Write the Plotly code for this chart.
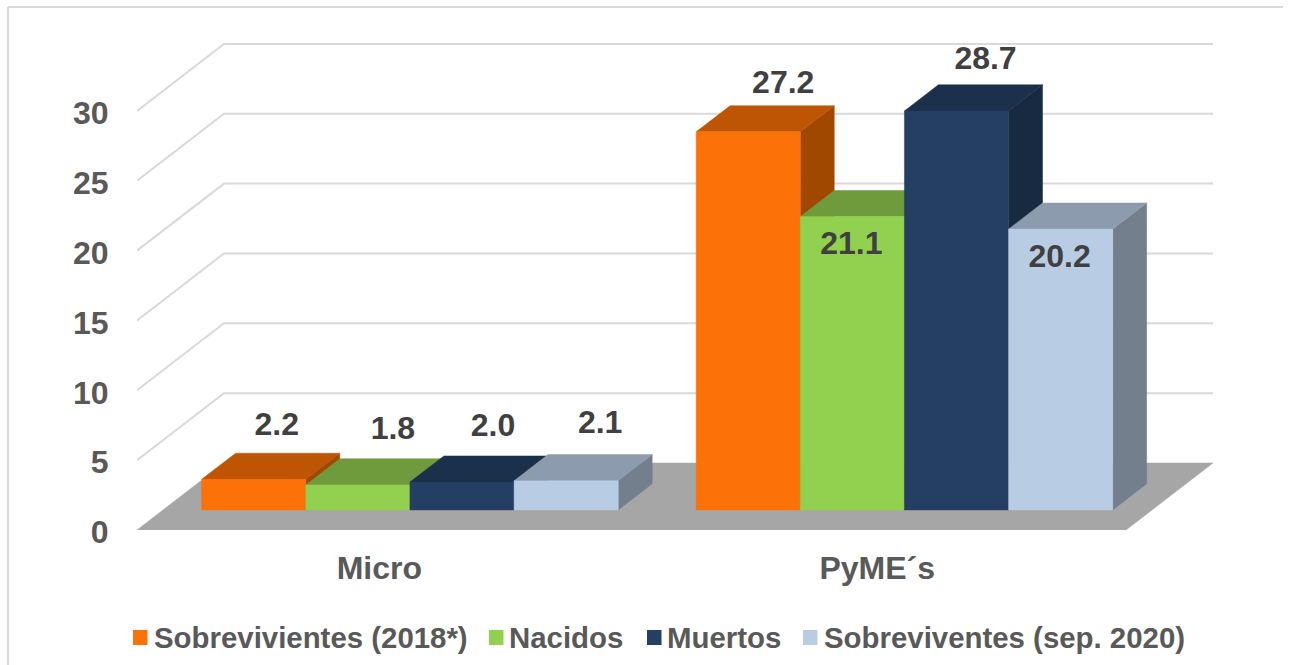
import plotly.graph_objects as go

# ---- data ----
categories = ["Micro", "PyME´s"]
series_names = ["Sobrevivientes (2018*)", "Nacidos", "Muertos", "Sobreviventes (sep. 2020)"]
sobrevivientes_2018 = [2.2, 27.2]
nacidos = [1.8, 21.1]
muertos = [2.0, 28.7]
sobreviventes_2020 = [2.1, 20.2]
y_ticks = [0, 5, 10, 15, 20, 25, 30]

# ---- style ----
W, H = 1292, 665
LEFT, RIGHT, TOP, BOTTOM = 137, 1226, 20, 530   # plot area in pixels
UX = 494.5   # px per category
UY = 13.97   # px per value unit
DEPTH_X = 87 / UX     # back wall offset, in category units
DEPTH_Y = 67 / UY     # back wall offset, in value units
BAR_D0 = 0.30         # bar front position in depth fraction
BAR_D1 = 0.69         # bar back position
BAR_SCALE = 0.995     # front plane foreshortening of bar heights
BAR_START = 0.078     # left of first bar within category
BAR_W = 0.2106
front = ["#FC7108", "#92D14F", "#243F63", "#B8CCE4"]
top = ["#BE5504", "#6F9B3C", "#1B304B", "#8C9BAD"]
side = ["#A04800", "#587C30", "#172A42", "#747F8D"]
GRID = "#D9D9D9"
FLOOR = "#A6A6A6"
TICK = "#595959"
LABEL = "#404040"
FONT = "Liberation Sans, Arial, sans-serif"
# label offsets (px) from the bar's front-top centre
label_off = [[(23, 52), (35, 54), (31, 54), (34, 56)],
             [(35, 47), (-1, -29), (29, 50), (-1, -30)]]
# legend: swatch left px, text left px
legend_sw = [133, 489, 647, 803]
legend_tx = [152, 507, 665, 822]


def proj(x, v, d):
    return x + d * DEPTH_X, v + d * DEPTH_Y


def poly(points, color, name):
    xs = [p[0] for p in points] + [points[0][0]]
    ys = [p[1] for p in points] + [points[0][1]]
    return go.Scatter(x=xs, y=ys, mode="lines", fill="toself", fillcolor=color,
                      line=dict(color=color, width=0.5), hoverinfo="skip",
                      showlegend=False, name=name, cliponaxis=False)


fig = go.Figure()
XMAX = (RIGHT - LEFT) / UX
YMAX = (BOTTOM - TOP) / UY

# walls grid
for t in y_ticks[1:]:
    a = proj(0, t, 0)
    b = proj(0, t, 1)
    c = proj(2, t, 1)
    fig.add_trace(go.Scatter(x=[a[0], b[0], c[0]], y=[a[1], b[1], c[1]], mode="lines",
                             line=dict(color=GRID, width=2), hoverinfo="skip", showlegend=False))
# floor
fig.add_trace(poly([proj(0, 0, 0), proj(2, 0, 0), proj(2, 0, 1), proj(0, 0, 1)], FLOOR, "floor"))

all_series = [sobrevivientes_2018, nacidos, muertos, sobreviventes_2020]
lx, ly, lt = [], [], []
for c in range(len(categories)):
    for s, vals in enumerate(all_series):
        v = vals[c] * BAR_SCALE
        x0 = c + BAR_START + s * BAR_W
        x1 = x0 + BAR_W
        fig.add_trace(poly([proj(x1, 0, BAR_D0), proj(x1, 0, BAR_D1), proj(x1, v, BAR_D1), proj(x1, v, BAR_D0)],
                           side[s], series_names[s]))
        fig.add_trace(poly([proj(x0, v, BAR_D0), proj(x1, v, BAR_D0), proj(x1, v, BAR_D1), proj(x0, v, BAR_D1)],
                           top[s], series_names[s]))
        fig.add_trace(poly([proj(x0, 0, BAR_D0), proj(x1, 0, BAR_D0), proj(x1, v, BAR_D0), proj(x0, v, BAR_D0)],
                           front[s], series_names[s]))
        px, py = proj((x0 + x1) / 2, v, BAR_D0)
        dx, dy = label_off[c][s]
        lx.append(px + dx / UX)
        ly.append(py + dy / UY)
        lt.append(f"<b>{vals[c]:.1f}</b>")

fig.add_trace(go.Scatter(x=lx, y=ly, mode="text", text=lt, textposition="middle center",
                         textfont=dict(family=FONT, size=32, color=LABEL), hoverinfo="skip",
                         showlegend=False, cliponaxis=False))

fx = lambda p: (p - LEFT) / (RIGHT - LEFT)
fy = lambda p: (BOTTOM - p) / (BOTTOM - TOP)

shapes = [
    dict(type="line", xref="paper", yref="paper", x0=fx(8), x1=fx(8), y0=fy(7), y1=fy(665),
         line=dict(color=GRID, width=2)),
    dict(type="line", xref="paper", yref="paper", x0=fx(8), x1=fx(1283), y0=fy(7), y1=fy(7),
         line=dict(color=GRID, width=2)),
]
annotations = []
for i, name in enumerate(series_names):
    shapes.append(dict(type="rect", xref="paper", yref="paper", x0=fx(legend_sw[i]), x1=fx(legend_sw[i] + 14.5),
                       y0=fy(630), y1=fy(645), fillcolor=front[i], line=dict(width=0)))
    annotations.append(dict(xref="paper", yref="paper", x=fx(legend_tx[i]), y=fy(637), text=f"<b>{name}</b>",
                            showarrow=False, xanchor="left", yanchor="middle",
                            font=dict(family=FONT, size=29.4, color=TICK)))

fig.update_layout(
    width=W, height=H, autosize=False,
    margin=dict(l=LEFT, r=W - RIGHT, t=TOP, b=H - BOTTOM, pad=0),
    paper_bgcolor="white", plot_bgcolor="white", showlegend=False,
    xaxis=dict(range=[0, XMAX], tickmode="array", tickvals=[0.49, 1.497], ticktext=[f"<b>{c}</b>" for c in categories],
               showgrid=False, zeroline=False, showline=False, ticks="outside", ticklen=10, tickcolor="rgba(0,0,0,0)",
               tickfont=dict(family=FONT, size=32, color=TICK), fixedrange=True),
    yaxis=dict(range=[0, YMAX], tickmode="array", tickvals=y_ticks, ticktext=[f"<b>{t}</b>" for t in y_ticks],
               showgrid=False, zeroline=False, showline=False, ticks="outside", ticklen=21, tickcolor="rgba(0,0,0,0)",
               ticklabelshift=2,
               tickfont=dict(family=FONT, size=32, color=TICK), fixedrange=True),
    shapes=shapes, annotations=annotations,
)

fig.write_html("out.html", config={"displayModeBar": False},
               post_script="document.body.style.margin='0';document.body.style.overflow='hidden';")
